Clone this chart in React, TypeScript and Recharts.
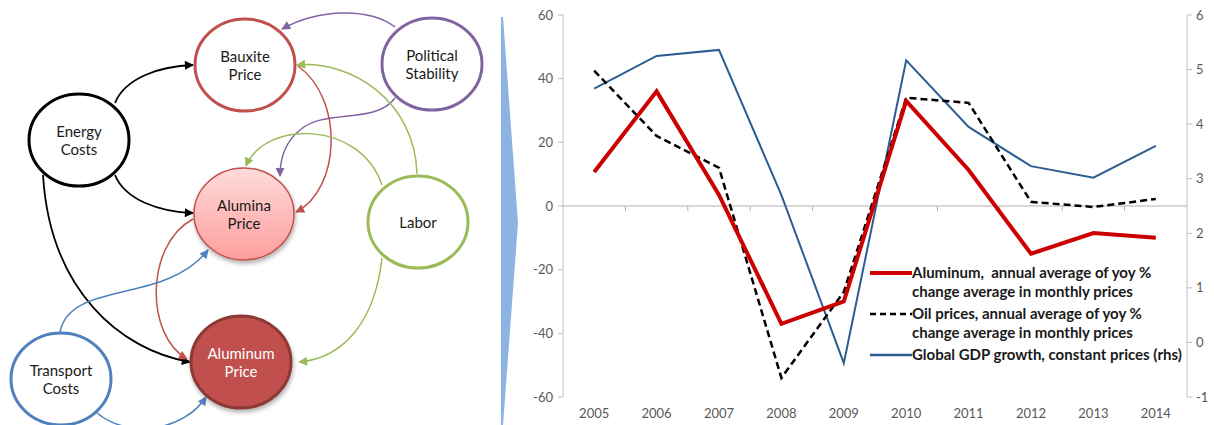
import React from 'react';
import { LineChart, Line, XAxis, YAxis, ReferenceLine, Legend } from 'recharts';

// values
const years = [2005, 2006, 2007, 2008, 2009, 2010, 2011, 2012, 2013, 2014];
const aluminum = [10.7, 36, 3.5, -37, -30, 33, 11.3, -15, -8.5, -10];
const oilPrices = [42.5, 22, 12, -54, -27, 34, 32.4, 1.3, -0.3, 2.2];
const gdpGrowth = [4.65, 5.25, 5.36, 2.7, -0.38, 5.17, 3.95, 3.23, 3.02, 3.6];
const leftTicks = [-60, -40, -20, 0, 20, 40, 60];
const rightTicks = [-1, 0, 1, 2, 3, 4, 5, 6];
const categoryEdges = [2005.5, 2006.5, 2007.5, 2008.5, 2009.5, 2010.5, 2011.5, 2012.5, 2013.5];

const seriesNames = {
  aluminum: 'Aluminum,  annual average of yoy %\nchange average in monthly prices',
  oil: 'Oil prices, annual average of yoy %\nchange average in monthly prices',
  gdp: 'Global GDP growth, constant prices (rhs)',
};

const data = years.map((year, i) => ({
  year,
  aluminum: aluminum[i],
  oil: oilPrices[i],
  gdp: gdpGrowth[i],
}));

const FONT = 'Lato, "Open Sans", sans-serif';
const tickStyle = { fill: '#595959', fontSize: 13, fontFamily: FONT };

// ---- left side: the influence diagram ----
type Node = { id: string; cx: number; cy: number; lines: string[]; stroke: string; fill?: string; sw: number; text?: string };

const nodes: Node[] = [
  { id: 'bauxite', cx: 245, cy: 65, lines: ['Bauxite', 'Price'], stroke: '#c0504d', sw: 3 },
  { id: 'political', cx: 432, cy: 64, lines: ['Political', 'Stability'], stroke: '#8064a2', sw: 3 },
  { id: 'energy', cx: 79, cy: 140, lines: ['Energy', 'Costs'], stroke: '#000000', sw: 3 },
  { id: 'alumina', cx: 244, cy: 214, lines: ['Alumina', 'Price'], stroke: '#c0504d', fill: 'url(#aluminaFill)', sw: 1.5 },
  { id: 'labor', cx: 418, cy: 222, lines: ['Labor'], stroke: '#9bbb59', sw: 3 },
  { id: 'aluminum', cx: 241, cy: 362, lines: ['Aluminum', 'Price'], stroke: '#8c3836', fill: '#c0504d', sw: 3, text: '#ffffff' },
  { id: 'transport', cx: 61, cy: 379, lines: ['Transport', 'Costs'], stroke: '#4f81bd', sw: 3 },
];

const arrowColors: Record<string, string> = {
  black: '#000000',
  red: '#c0504d',
  purple: '#8064a2',
  green: '#9bbb59',
  blue: '#4f81bd',
};

const arrows = [
  { c: 'purple', d: 'M395,27 C370,8 320,8 282,29' },
  { c: 'purple', d: 'M395,98 C375,125 325,108 300,130 C285,142 280,160 280,176' },
  { c: 'black', d: 'M115,103 C125,78 160,66 193,65' },
  { c: 'black', d: 'M115,175 C125,200 160,212 193,213' },
  { c: 'black', d: 'M43,175 C50,290 120,350 190,362' },
  { c: 'red', d: 'M298,66 C345,100 340,190 296,212' },
  { c: 'red', d: 'M193,219 C145,245 145,335 187,359' },
  { c: 'green', d: 'M417,174 C415,100 350,60 297,65' },
  { c: 'green', d: 'M382,185 C360,120 265,120 246,166' },
  { c: 'green', d: 'M382,258 C375,320 345,358 299,362' },
  { c: 'blue', d: 'M60,332 C70,280 165,305 208,250' },
  { c: 'blue', d: 'M97,413 C130,440 185,430 206,397' },
];

const Diagram = () => (
  <svg width={500} height={425} style={{ position: 'absolute', left: 0, top: 0 }}>
    <defs>
      <linearGradient id="aluminaFill" x1="0" y1="0" x2="0" y2="1">
        <stop offset="0%" stopColor="#ffdada" />
        <stop offset="100%" stopColor="#ff9e9e" />
      </linearGradient>
      <filter id="shadow" x="-20%" y="-20%" width="140%" height="150%">
        <feDropShadow dx="1" dy="3" stdDeviation="2" floodOpacity="0.3" />
      </filter>
      {Object.keys(arrowColors).map((k) => (
        <marker
          key={k}
          id={`ah-${k}`}
          viewBox="0 0 10 10"
          refX="9"
          refY="5"
          markerWidth="10"
          markerHeight="9"
          markerUnits="userSpaceOnUse"
          orient="auto"
        >
          <path d="M0,0 L10,5 L0,10 z" fill={arrowColors[k]} />
        </marker>
      ))}
    </defs>
    {arrows.map((a, i) => (
      <path key={i} d={a.d} fill="none" stroke={arrowColors[a.c]} strokeWidth={a.c === 'black' ? 1.8 : 1.5} markerEnd={`url(#ah-${a.c})`} />
    ))}
    {nodes.map((n) => (
      <g key={n.id}>
        <ellipse
          cx={n.cx}
          cy={n.cy}
          rx={50}
          ry={46}
          fill={n.fill || '#ffffff'}
          stroke={n.stroke}
          strokeWidth={n.sw}
          filter={n.fill ? 'url(#shadow)' : undefined}
        />
        {n.lines.map((t, i) => (
          <text
            key={t}
            x={n.cx}
            y={n.cy + (i - (n.lines.length - 1) / 2) * 18.5}
            textAnchor="middle"
            dominantBaseline="central"
            fontFamily={FONT}
            fontSize={15}
            fill={n.text || '#1a1a1a'}
          >
            {t}
          </text>
        ))}
      </g>
    ))}
  </svg>
);

const Chevron = () => (
  <svg width={22} height={425} style={{ position: 'absolute', left: 499, top: 0 }}>
    <path d="M2,17 L4,17 L19,223 L4,425 L2,425 Z" fill="#8db3e2" />
  </svg>
);

const legendOrder = ['aluminum', 'oil', 'gdp'];

const LegendContent = (props: any) => {
  const payload = [...(props.payload || [])].sort(
    (a: any, b: any) => legendOrder.indexOf(a.dataKey) - legendOrder.indexOf(b.dataKey)
  );
  return (
    <div style={{ fontFamily: FONT, fontSize: 15, fontWeight: 700, color: '#1a1a1a', lineHeight: '19px' }}>
      {payload.map((p: any) => (
        <div key={p.dataKey} style={{ display: 'flex', alignItems: 'flex-start', marginBottom: 3 }}>
          <svg width={42} height={19} style={{ flex: 'none' }}>
            <line
              x1={0}
              x2={42}
              y1={10}
              y2={10}
              stroke={p.color}
              strokeWidth={p.dataKey === 'aluminum' ? 4 : 2.5}
              strokeDasharray={p.dataKey === 'oil' ? '6 4' : undefined}
            />
          </svg>
          <span style={{ whiteSpace: 'pre' }}>{p.value}</span>
        </div>
      ))}
    </div>
  );
};

export default function App() {
  return (
    <div style={{ position: 'absolute', left: 0, top: 0, width: 1214, height: 425, background: '#ffffff', overflow: 'hidden' }}>
      <Diagram />
      <Chevron />
      <div style={{ position: 'absolute', left: 520, top: 0 }}>
        <LineChart width={694} height={425} data={data} margin={{ top: 15, right: 7, bottom: 0, left: 13 }}>
          <XAxis
            dataKey="year"
            type="number"
            domain={[2004.5, 2014.5]}
            ticks={years}
            axisLine={false}
            tickLine={false}
            tickSize={6}
            tickMargin={6}
            height={28}
            tick={tickStyle}
            interval={0}
          />
          <YAxis
            yAxisId="left"
            domain={[-60, 60]}
            ticks={leftTicks}
            width={30}
            tick={tickStyle}
            tickSize={5}
            tickMargin={5}
            axisLine={{ stroke: '#bfbfbf' }}
            tickLine={{ stroke: '#bfbfbf' }}
          />
          <YAxis
            yAxisId="right"
            orientation="right"
            domain={[-1, 6]}
            ticks={rightTicks}
            width={20}
            tick={tickStyle}
            tickSize={5}
            tickMargin={4}
            axisLine={{ stroke: '#bfbfbf' }}
            tickLine={{ stroke: '#bfbfbf' }}
          />
          <ReferenceLine yAxisId="left" y={0} stroke="#b0b0b0" strokeWidth={1} />
          {categoryEdges.map((x) => (
            <ReferenceLine
              key={x}
              yAxisId="left"
              segment={[{ x, y: 0 }, { x, y: -1.6 }]}
              stroke="#b0b0b0"
              strokeWidth={1}
            />
          ))}
          <Line
            yAxisId="right"
            dataKey="gdp"
            name={seriesNames.gdp}
            stroke="#2c5d92"
            strokeWidth={2}
            dot={false}
            isAnimationActive={false}
          />
          <Line
            yAxisId="left"
            dataKey="oil"
            name={seriesNames.oil}
            stroke="#000000"
            strokeWidth={2.5}
            strokeDasharray="7 4"
            dot={false}
            isAnimationActive={false}
          />
          <Line
            yAxisId="left"
            dataKey="aluminum"
            name={seriesNames.aluminum}
            stroke="#cc0000"
            strokeWidth={4}
            dot={false}
            isAnimationActive={false}
          />
          <Legend
            layout="vertical"
            align="center"
            verticalAlign="middle"
            content={(props: any) => <LegendContent {...props} />}
            wrapperStyle={{ position: 'absolute', left: 350, top: 263, width: 340, bottom: 'auto', right: 'auto' }}
          />
        </LineChart>
      </div>
    </div>
  );
}
